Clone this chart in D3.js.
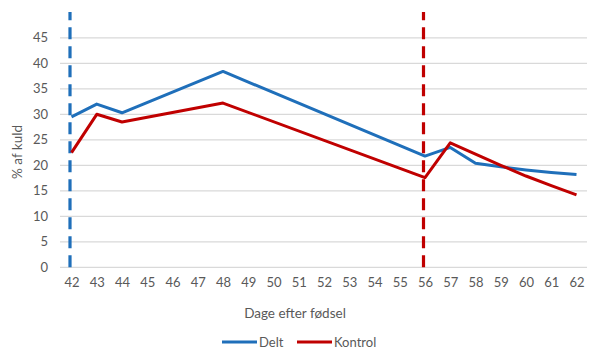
<!DOCTYPE html>
<html>
<head>
<meta charset="utf-8">
<script src="https://cdn.jsdelivr.net/npm/d3@7"></script>
<style>
  html, body { margin: 0; padding: 0; background: #fff; }
  svg { display: block; font-family: Lato, "Open Sans", sans-serif; }
</style>
</head>
<body>
<svg id="chart" width="589" height="353"></svg>
<script>
// Days after birth (category axis)
const days = [42, 43, 44, 45, 46, 47, 48, 49, 50, 51, 52, 53, 54, 55, 56, 57, 58, 59, 60, 61, 62];
// % of litter; null where no observation was recorded that day
const delt    = [29.5, 32.0, 30.3, null, null, null, 38.4, null, null, null, null, null, null, null, 21.8, 23.5, 20.4, 19.7, 19.1, 18.6, 18.2];
const kontrol = [22.5, 30.0, 28.5, null, null, null, 32.2, null, null, null, null, null, null, null, 17.6, 24.4, 22.2, 20.0, 17.9, 16.0, 14.2];
const yTicks = [0, 5, 10, 15, 20, 25, 30, 35, 40, 45];
// Vertical dashed markers: day and colour
const markerDays = [42, 56];
const seriesNames = ["Delt", "Kontrol"];
const colors = { Delt: "#1f6fba", Kontrol: "#c00000" };

const svg = d3.select("#chart");
const x = d3.scaleLinear().domain([42, 62]).range([71.5, 576.5]);
const y = d3.scaleLinear().domain([0, 50]).range([267.3, 12.3]);

// Horizontal gridlines
svg.append("g").selectAll("line").data(yTicks).join("line")
  .attr("x1", 60).attr("x2", 587)
  .attr("y1", d => y(d)).attr("y2", d => y(d))
  .attr("stroke", "#d9d9d9").attr("stroke-width", 1.3);

// Y axis labels
const yAxis = svg.append("g").attr("transform", "translate(48,0)")
  .call(d3.axisLeft(y).tickValues(yTicks).tickSize(0).tickPadding(0));
yAxis.select(".domain").remove();
yAxis.selectAll("text").attr("fill", "#595959").style("font-size", "13px")
  .style("font-family", "Lato, 'Open Sans', sans-serif");

// X axis labels
const xAxis = svg.append("g").attr("transform", "translate(0,278)")
  .call(d3.axisBottom(x).tickValues(days).tickSize(0).tickPadding(0).tickFormat(d3.format("d")));
xAxis.select(".domain").remove();
xAxis.selectAll("text").attr("fill", "#595959").style("font-size", "13px")
  .style("font-family", "Lato, 'Open Sans', sans-serif");

// Axis titles
svg.append("text").attr("x", 295).attr("y", 318).attr("text-anchor", "middle")
  .attr("fill", "#595959").style("font-size", "13.5px").text("Dage efter fødsel");
svg.append("text").attr("transform", "translate(22,152) rotate(-90)").attr("text-anchor", "middle")
  .attr("fill", "#595959").style("font-size", "13.5px").text("% af kuld");

// Dashed vertical markers
svg.append("g").selectAll("line").data(markerDays).join("line")
  .attr("x1", d => x(d) - 1.5).attr("x2", d => x(d) - 1.5)
  .attr("y1", y(0)).attr("y2", 12)
  .attr("stroke", (d, i) => i === 0 ? colors.Delt : colors.Kontrol)
  .attr("stroke-width", 3.2).attr("stroke-dasharray", "12,7");

// Series lines
const series = [
  { name: "Delt", values: delt },
  { name: "Kontrol", values: kontrol }
];
const line = d3.line().x(d => x(d.day)).y(d => y(d.v));
svg.append("g").selectAll("path").data(series).join("path")
  .attr("d", s => line(days.map((day, i) => ({ day, v: s.values[i] })).filter(p => p.v !== null)))
  .attr("fill", "none")
  .attr("stroke", s => colors[s.name])
  .attr("stroke-width", 3)
  .attr("stroke-linejoin", "round");

// Legend
const legend = svg.append("g").attr("transform", "translate(0,342)");
const legendX = [222, 297];
seriesNames.forEach((name, i) => {
  legend.append("line").attr("x1", legendX[i]).attr("x2", legendX[i] + 35)
    .attr("y1", 0).attr("y2", 0).attr("stroke", colors[name]).attr("stroke-width", 3);
  legend.append("text").attr("x", legendX[i] + 37).attr("y", 4.5)
    .attr("fill", "#595959").style("font-size", "13px").text(name);
});
</script>
</body>
</html>
